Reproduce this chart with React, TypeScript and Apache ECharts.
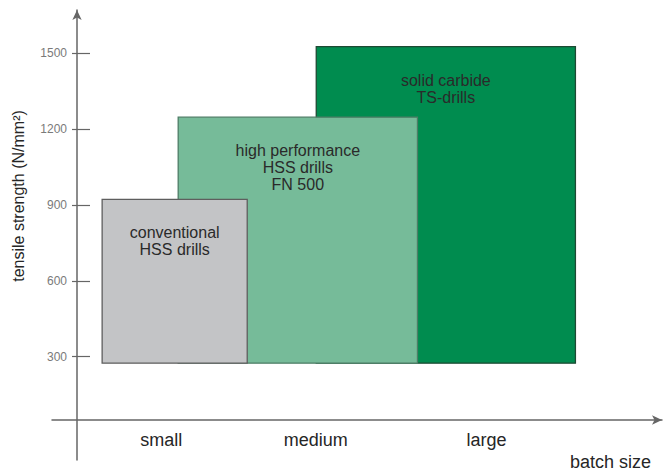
import React, { useEffect, useRef } from "react";
import * as echarts from "echarts";

// Tool families (boxes)
const tools = ["conventional\nHSS drills", "high performance\nHSS drills\nFN 500", "solid carbide\nTS-drills"];
// batch-size extent of each box (relative batch-size scale, 0..100)
const batchStart = [4.3, 17.3, 40.9];
const batchEnd = [29.1, 58.2, 85.2];
// tensile strength range of each box (N/mm²)
const strengthMin = [274, 274, 274];
const strengthMax = [922, 1247, 1526];

// batch-size categories on the x axis
const batchLabels = ["small", "medium", "large"];
const batchPos = [14.4, 40.8, 70.0];

// tick values on y axis
const strengthTicks = [300, 600, 900, 1200, 1500];

const boxFill = ["#c3c4c6", "#76bb99", "#008c4f"];
const boxStroke = ["#5e5e5e", "#4d7d66", "#1d4a33"];

const FONT = '"Liberation Sans", Arial, Helvetica, sans-serif';

export default function App() {
  const ref = useRef<HTMLDivElement>(null);

  useEffect(() => {
    if (!ref.current) return;
    const chart = echarts.init(ref.current, undefined, { renderer: "svg" });

    // draw largest first so the smaller boxes lie on top
    const order = [2, 1, 0];
    const data = order.map((i) => [batchStart[i], batchEnd[i], strengthMin[i], strengthMax[i], i]);

    const axisColor = "#666666";
    const yBase = {
      type: "value" as const,
      min: -109,
      max: 1671,
      position: "left" as const,
      offset: -25,
      splitLine: { show: false },
    };

    chart.setOption({
      animation: false,
      backgroundColor: "#ffffff",
      textStyle: { fontFamily: FONT },
      grid: { left: 52, right: 5, top: 10, bottom: 13, containLabel: false },
      xAxis: {
        type: "value",
        min: -4.27,
        max: 100,
        offset: -40,
        axisLine: {
          onZero: false,
          lineStyle: { color: axisColor, width: 1.5 },
          symbol: ["none", "arrow"],
          symbolSize: [7, 10],
        },
        axisTick: { show: false },
        splitLine: { show: false },
        axisLabel: {
          customValues: batchPos,
          formatter: (v: number) => {
            const k = batchPos.findIndex((p) => Math.abs(p - v) < 1e-6);
            return k >= 0 ? batchLabels[k] : "";
          },
          fontSize: 18,
          color: "#262626",
          fontFamily: FONT,
          margin: 11,
        },
        name: "batch size",
        nameLocation: "end",
        nameGap: -11,
        nameTextStyle: {
          fontSize: 18,
          color: "#262626",
          fontFamily: FONT,
          align: "right",
          verticalAlign: "top",
          padding: [33, 0, 0, 0],
        },
      },
      yAxis: [
        {
          ...yBase,
          axisLine: {
            onZero: false,
            lineStyle: { color: axisColor, width: 1.5 },
            symbol: ["none", "arrow"],
            symbolSize: [7, 10],
          },
          axisTick: {
            customValues: strengthTicks,
            length: 5,
            lineStyle: { color: axisColor, width: 1.2 },
          },
          axisLabel: {
            customValues: strengthTicks,
            formatter: (v: number) => String(v),
            color: "#7a7a7a",
            fontSize: 12,
            fontFamily: FONT,
            margin: 10,
          },
          name: "tensile strength (N/mm²)",
          nameLocation: "middle",
          nameRotate: 90,
          nameGap: 51,
          nameTextStyle: {
            fontSize: 16,
            color: "#262626",
            fontFamily: FONT,
            padding: [0, 0, 0, 78],
          },
        },
        {
          ...yBase,
          axisLine: { show: false, onZero: false },
          axisTick: {
            customValues: strengthTicks,
            inside: true,
            length: 13,
            lineStyle: { color: axisColor, width: 1.2 },
          },
          axisLabel: { show: false },
        },
      ],
      series: [
        {
          type: "custom",
          xAxisIndex: 0,
          yAxisIndex: 0,
          clip: false,
          encode: { x: [0, 1], y: [2, 3] },
          data,
          renderItem: (params: any, api: any) => {
            const i = api.value(4) as number;
            const tl = api.coord([api.value(0), api.value(3)]);
            const br = api.coord([api.value(1), api.value(2)]);
            return {
              type: "group",
              children: [
                {
                  type: "rect",
                  shape: { x: tl[0], y: tl[1], width: br[0] - tl[0], height: br[1] - tl[1] },
                  style: { fill: boxFill[i], stroke: boxStroke[i], lineWidth: 1.3 },
                },
                {
                  type: "text",
                  x: (tl[0] + br[0]) / 2,
                  y: tl[1] + 25,
                  style: {
                    text: tools[i],
                    fill: "#2a2a2a",
                    font: `16px ${FONT}`,
                    align: "center",
                    verticalAlign: "top",
                    lineHeight: 17,
                  },
                },
              ],
            };
          },
        },
      ],
    });

    return () => chart.dispose();
  }, []);

  return <div ref={ref} style={{ width: 667, height: 473, position: "absolute", left: 0, top: 0 }} />;
}
